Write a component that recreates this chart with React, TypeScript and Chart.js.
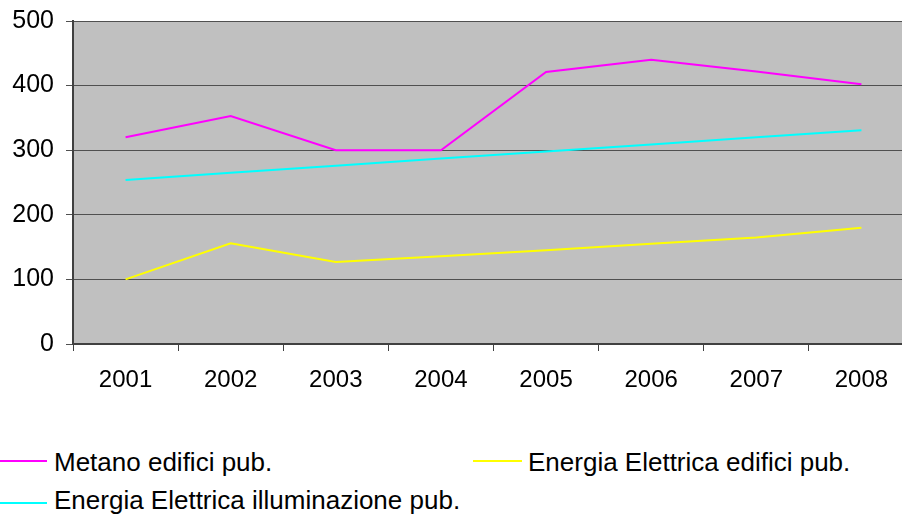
import React, { useEffect, useRef } from "react";
import { Chart, registerables } from "chart.js";

Chart.register(...registerables);

const years = ["2001", "2002", "2003", "2004", "2005", "2006", "2007", "2008"];
const metano = [320, 353, 300, 300, 421, 440, 422, 402];
const elettricaEdifici = [100, 156, 127, 136, 145, 155, 165, 180];
const elettricaIllum = [254, 265, 276, 287, 298, 309, 320, 331];
const yTicks = [0, 100, 200, 300, 400, 500];

const FONT = "'Liberation Sans', Arial, sans-serif";

const bgPlugin = {
  id: "plotBg",
  beforeDraw(chart: any) {
    const { ctx, chartArea } = chart;
    ctx.save();
    ctx.fillStyle = "#C0C0C0";
    ctx.fillRect(chartArea.left, chartArea.top, chartArea.right - chartArea.left, chartArea.bottom - chartArea.top);
    ctx.restore();
  },
};

export default function App() {
  const ref = useRef<HTMLCanvasElement | null>(null);
  useEffect(() => {
    if (!ref.current) return;
    const chart = new Chart(ref.current, {
      type: "line",
      data: {
        labels: years,
        datasets: [
          { label: "Metano edifici pub.", data: metano, borderColor: "#FF00FF", borderWidth: 2, pointRadius: 0, tension: 0 },
          { label: "Energia Elettrica edifici pub.", data: elettricaEdifici, borderColor: "#FFFF00", borderWidth: 2, pointRadius: 0, tension: 0 },
          { label: "Energia Elettrica illuminazione pub.", data: elettricaIllum, borderColor: "#00FFFF", borderWidth: 2, pointRadius: 0, tension: 0 },
        ],
      },
      options: {
        animation: false,
        responsive: false,
        maintainAspectRatio: false,
        layout: { padding: { top: 21, left: 0, right: 0, bottom: 0 } },
        plugins: { legend: { display: false }, tooltip: { enabled: false } },
        scales: {
          x: {
            offset: true,
            grid: { offset: true, drawOnChartArea: false, drawTicks: true, tickLength: 7, color: "#404040" },
            border: { color: "#404040", width: 2 },
            ticks: { font: { family: FONT, size: 24 }, color: "#000", padding: 15, maxRotation: 0 },
            afterFit(scale: any) { scale.height = 56; scale.paddingLeft = 0; scale.paddingRight = 0; },
          },
          y: {
            min: 0,
            max: 500,
            afterBuildTicks(scale: any) { scale.ticks = yTicks.map((v) => ({ value: v })); },
            grid: { color: "#505050", tickLength: 7, drawTicks: true },
            border: { color: "#404040", width: 2 },
            ticks: { font: { family: FONT, size: 25 }, color: "#000", padding: 12 },
            afterFit(scale: any) { scale.width = 73; scale.paddingTop = 0; scale.paddingBottom = 0; },
          },
        },
      },
      plugins: [bgPlugin],
    } as any);
    return () => chart.destroy();
  }, []);

  const legendText: React.CSSProperties = { position: "absolute", fontFamily: FONT, fontSize: 26, color: "#000", lineHeight: "30px", whiteSpace: "nowrap" };
  const line = (color: string, left: number, top: number, width: number) => (
    <div style={{ position: "absolute", left, top, width, height: 2, background: color }} />
  );

  return (
    <div style={{ position: "fixed", left: 0, top: 0, width: 902, height: 521, overflow: "hidden", background: "#fff" }}>
      <canvas ref={ref} width={914} height={400} style={{ position: "absolute", left: 0, top: 0, width: 914, height: 400 }} />
      {line("#FF00FF", 0, 460, 47)}
      <div style={{ ...legendText, left: 54, top: 447 }}>Metano edifici pub.</div>
      {line("#FFFF00", 473, 460, 49)}
      <div style={{ ...legendText, left: 528, top: 447 }}>Energia Elettrica edifici pub.</div>
      {line("#00FFFF", 0, 502, 47)}
      <div style={{ ...legendText, left: 54, top: 485 }}>Energia Elettrica illuminazione pub.</div>
    </div>
  );
}
